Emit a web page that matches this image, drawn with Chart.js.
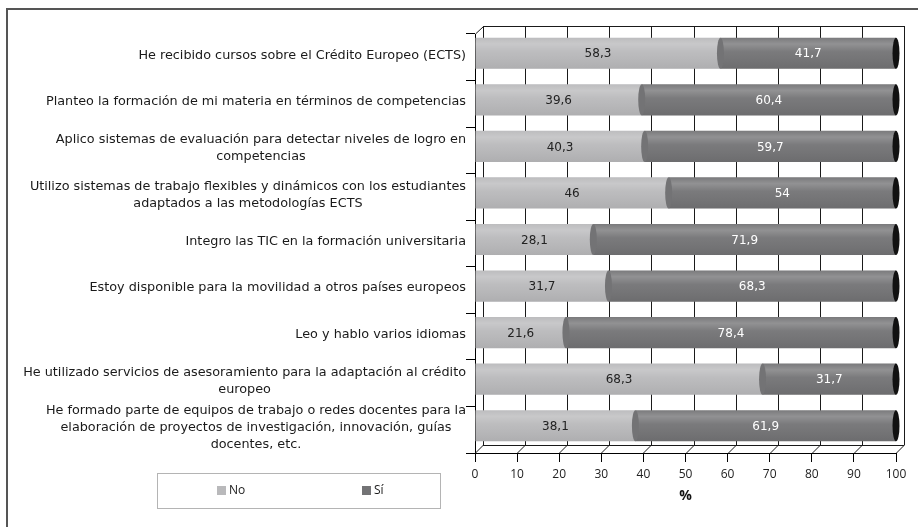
<!DOCTYPE html>
<html>
<head>
<meta charset="utf-8">
<script src="https://cdn.jsdelivr.net/npm/chart.js@4.4.1/dist/chart.umd.min.js"></script>
<style>
  html, body { margin: 0; padding: 0; background: #fff; }
</style>
</head>
<body>
<canvas id="myChart" width="918" height="527"></canvas>
<script>
// data
const categories = [
  ['He recibido cursos sobre el Crédito Europeo (ECTS)'],
  ['Planteo la formación de mi materia en términos de competencias'],
  ['Aplico sistemas de evaluación para detectar niveles de logro en', 'competencias'],
  ['Utilizo sistemas de trabajo flexibles y dinámicos con los estudiantes', 'adaptados a las metodologías ECTS'],
  ['Integro las TIC en la formación universitaria'],
  ['Estoy disponible para la movilidad a otros países europeos'],
  ['Leo y hablo varios idiomas'],
  ['He utilizado servicios de asesoramiento para la adaptación al crédito', 'europeo'],
  ['He formado parte de equipos de trabajo o redes docentes para la', 'elaboración de proyectos de investigación, innovación, guías', 'docentes, etc.']
];
const noValues = [58.3, 39.6, 40.3, 46, 28.1, 31.7, 21.6, 68.3, 38.1];
const siValues = [41.7, 60.4, 59.7, 54, 71.9, 68.3, 78.4, 31.7, 61.9];
const xTickLabels = ['0', '10', '20', '30', '40', '50', '60', '70', '80', '90', '100'];

const NO_COLOR = '#b9b9bb';
const SI_COLOR = '#737375';
const DEPTH = 8;
const catFont = '12.8px "DejaVu Sans"';
const valueFont = '12px "DejaVu Sans"';

function fmt(v){
  return String(v).replace('.', ',');
}

const frame3d = {
  id: 'frame3d',
  beforeDraw(chart){
    const {ctx, width, height} = chart;
    ctx.save();
    ctx.fillStyle = '#fff';
    ctx.fillRect(0, 0, width, height);
    ctx.strokeStyle = '#555';
    ctx.lineWidth = 2;
    ctx.beginPath();
    ctx.moveTo(7, height);
    ctx.lineTo(7, 9);
    ctx.lineTo(width, 9);
    ctx.stroke();
    ctx.restore();
  },
  beforeDatasetsDraw(chart){
    const {ctx, chartArea: a} = chart;
    const x = chart.scales.x;
    ctx.save();
    ctx.strokeStyle = '#1a1a1a';
    ctx.lineWidth = 1;
    ctx.beginPath();
    x.ticks.forEach(t => {
      const px = Math.round(x.getPixelForValue(t.value)) + 0.5;
      ctx.moveTo(px, a.bottom);
      ctx.lineTo(px + DEPTH, a.bottom - DEPTH);
      ctx.lineTo(px + DEPTH, a.top - DEPTH);
    });
    ctx.moveTo(a.left + 0.5, a.top);
    ctx.lineTo(a.left + DEPTH + 0.5, a.top - DEPTH + 0.5);
    ctx.lineTo(a.right + DEPTH + 0.5, a.top - DEPTH + 0.5);
    ctx.moveTo(a.left + DEPTH, a.bottom - DEPTH + 0.5);
    ctx.lineTo(a.right + DEPTH, a.bottom - DEPTH + 0.5);
    ctx.stroke();
    ctx.restore();

    // bars sit half the depth up, like the 3d front face
    ctx.save();
    ctx.translate(0, -DEPTH / 2);
  },
  afterDatasetsDraw(chart){
    const {ctx} = chart;
    const noMeta = chart.getDatasetMeta(0);
    const siMeta = chart.getDatasetMeta(1);

    // cylinder shading
    [noMeta, siMeta].forEach(meta => {
      meta.data.forEach(el => {
        const top = el.y - el.height / 2;
        const g = ctx.createLinearGradient(0, top, 0, top + el.height);
        g.addColorStop(0, 'rgba(255,255,255,0.05)');
        g.addColorStop(0.2, 'rgba(255,255,255,0.22)');
        g.addColorStop(0.45, 'rgba(255,255,255,0.05)');
        g.addColorStop(1, 'rgba(0,0,0,0.06)');
        ctx.fillStyle = g;
        ctx.fillRect(Math.min(el.base, el.x), top, Math.abs(el.x - el.base), el.height);
      });
    });

    siMeta.data.forEach(el => {
      const h = el.height / 2;
      ctx.fillStyle = SI_COLOR;
      ctx.beginPath();
      ctx.ellipse(el.base, el.y, 3.5, h, 0, 0, Math.PI * 2);
      ctx.fill();
      ctx.fillStyle = '#111';
      ctx.beginPath();
      ctx.ellipse(el.x, el.y, 3.5, h, 0, 0, Math.PI * 2);
      ctx.fill();
    });

    ctx.font = valueFont;
    ctx.textAlign = 'center';
    ctx.textBaseline = 'middle';
    [[noMeta, noValues, '#222'], [siMeta, siValues, '#fff']].forEach(([meta, vals, col]) => {
      ctx.fillStyle = col;
      meta.data.forEach((el, i) => {
        ctx.fillText(fmt(vals[i]), (el.base + el.x) / 2, el.y + 1);
      });
    });
    ctx.restore();
  },
  afterDraw(chart){
    const {ctx} = chart;
    const y = chart.scales.y;
    ctx.save();
    ctx.font = catFont;
    ctx.fillStyle = '#1a1a1a';
    ctx.textAlign = 'center';
    ctx.textBaseline = 'middle';
    const lineH = 17;
    categories.forEach((lines, i) => {
      const cy = y.getPixelForValue(i) - 2;
      const w = Math.max(...lines.map(l => ctx.measureText(l).width));
      const cx = y.right - 9 - w / 2;
      lines.forEach((l, j) => {
        ctx.fillText(l, cx, cy + (j - (lines.length - 1) / 2) * lineH);
      });
    });

    // legend box
    ctx.strokeStyle = '#b4b4b4';
    ctx.lineWidth = 1;
    ctx.strokeRect(157.5, 473.5, 283, 35);
    const itemX = [217, 362];
    ctx.font = '12px "Open Sans"';
    ctx.textAlign = 'left';
    chart.data.datasets.forEach((ds, i) => {
      ctx.fillStyle = ds.backgroundColor;
      ctx.fillRect(itemX[i], 486, 9, 9);
      ctx.fillStyle = '#1a1a1a';
      ctx.fillText(ds.label, itemX[i] + 12, 491);
    });
    ctx.restore();
  }
};

new Chart(document.getElementById('myChart'), {
  type: 'bar',
  data: {
    labels: categories,
    datasets: [
      { label: 'No', data: noValues, backgroundColor: NO_COLOR, borderWidth: 0 },
      { label: 'Sí', data: siValues, backgroundColor: SI_COLOR, borderWidth: 0 }
    ]
  },
  options: {
    indexAxis: 'y',
    responsive: false,
    animation: false,
    devicePixelRatio: 1,
    layout: { padding: { top: 34, right: 22, left: 0, bottom: 0 } },
    datasets: { bar: { categoryPercentage: 1, barPercentage: 0.67 } },
    plugins: {
      legend: { display: false },
      tooltip: { enabled: false }
    },
    scales: {
      x: {
        stacked: true,
        min: 0,
        max: 100,
        afterFit(scale){ scale.height = 74; },
        ticks: {
          stepSize: 10,
          padding: 5,
          color: '#222',
          font: { family: 'Open Sans', size: 12 },
          callback: (v, i) => xTickLabels[i]
        },
        grid: { display: true, drawOnChartArea: false, drawTicks: true, tickLength: 9, color: '#000' },
        border: { display: true, color: '#000', width: 1 },
        title: {
          display: true,
          text: '%',
          color: '#111',
          font: { family: 'Open Sans', size: 14, weight: 'bold' },
          padding: { top: 4, bottom: 23 }
        }
      },
      y: {
        stacked: true,
        afterFit(scale){ scale.width = 475; },
        ticks: { display: false },
        grid: { display: true, drawOnChartArea: false, drawTicks: true, tickLength: 9, color: '#000' },
        border: { display: true, color: '#000', width: 1 }
      }
    }
  },
  plugins: [frame3d]
});
</script>
</body>
</html>
